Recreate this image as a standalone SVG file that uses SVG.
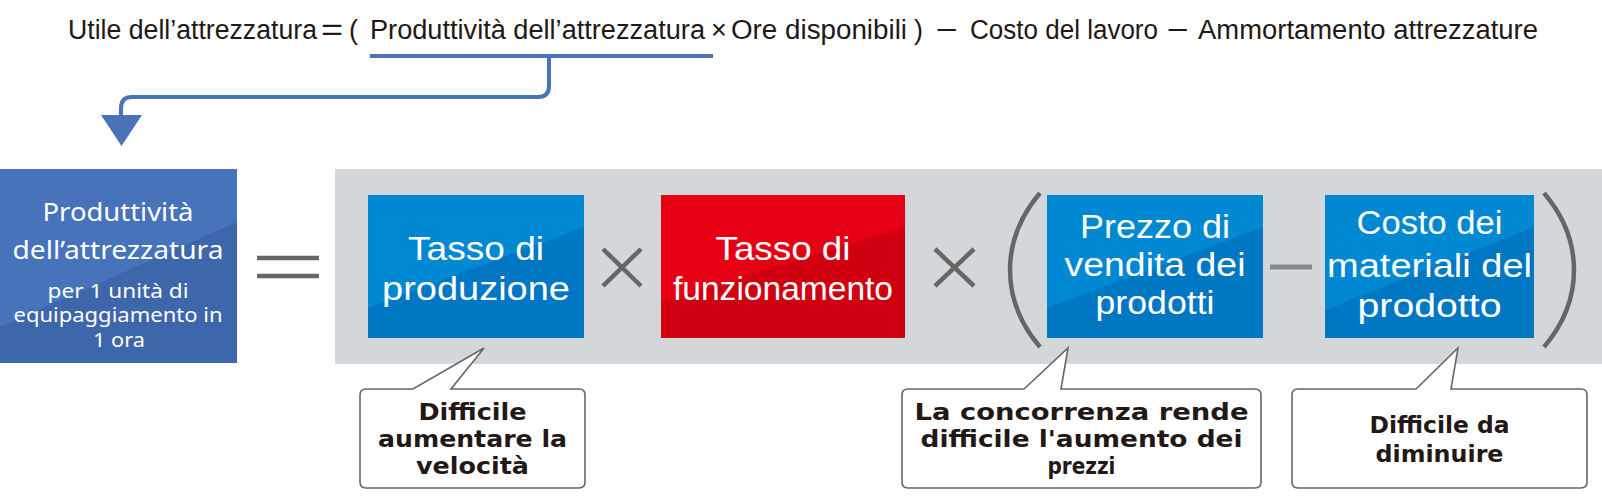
<svg xmlns="http://www.w3.org/2000/svg" width="1602" height="504" viewBox="0 0 1602 504">
<defs>
<style>
.title{font-family:"Liberation Sans",Arial,sans-serif;font-size:27px;fill:#231815}
.lbl{font-family:"Liberation Sans",Arial,sans-serif;font-size:33px;fill:#fff;text-anchor:middle}
.lb1{font-family:"Noto Sans","Liberation Sans",sans-serif;font-size:26px;fill:#fff;text-anchor:middle}
.lb2{font-family:"Noto Sans","Liberation Sans",sans-serif;font-size:20px;fill:#fff;text-anchor:middle}
.bub{fill:#fff;stroke:#666;stroke-width:1.6}
.btx{font-family:"DejaVu Sans","Liberation Sans",sans-serif;font-size:23px;font-weight:bold;fill:#231815;text-anchor:middle}
.op{stroke:#666;stroke-width:4.5;fill:none}
.conn{stroke:#4a72b9;stroke-width:4;fill:none}
</style>
</defs>
<rect width="1602" height="504" fill="#fff"/>

<g id="formula">
<text class="title" x="68" y="39" textLength="249" lengthAdjust="spacingAndGlyphs">Utile dell’attrezzatura</text>
<text class="title" x="321" y="40" style="font-size:32px" textLength="22" lengthAdjust="spacingAndGlyphs">=</text>
<text class="title" x="349" y="39">(</text>
<text class="title" x="370" y="39" textLength="335" lengthAdjust="spacingAndGlyphs">Produttività dell’attrezzatura</text>
<text class="title" x="711" y="39">×</text>
<text class="title" x="731" y="39" textLength="176" lengthAdjust="spacingAndGlyphs">Ore disponibili</text>
<text class="title" x="914" y="39">)</text>
<text class="title" x="936" y="39" textLength="22" lengthAdjust="spacingAndGlyphs">−</text>
<text class="title" x="970" y="39" textLength="188" lengthAdjust="spacingAndGlyphs">Costo del lavoro</text>
<text class="title" x="1167" y="39" textLength="22" lengthAdjust="spacingAndGlyphs">−</text>
<text class="title" x="1198" y="39" textLength="340" lengthAdjust="spacingAndGlyphs">Ammortamento attrezzature</text>
</g>

<g id="connectors">
<line class="conn" x1="370" y1="56" x2="713" y2="56"/>
<path class="conn" d="M549 56 V86 Q549 97 538 97 H132 Q121 97 121 108 V118"/>
<polygon points="101,115 142,115 121.5,146" fill="#4a72b9"/>
</g>

<g id="panel">
<rect x="335" y="169" width="1267" height="195" fill="#d3d7da"/>
</g>

<g id="node-produttivita">
<rect x="0" y="169" width="237" height="194" fill="#4673b9"/>
<polygon points="0,327 237,222 237,363 0,363" fill="#3e66ab"/>
<text class="lb1" x="118" y="221" textLength="151" lengthAdjust="spacingAndGlyphs">Produttività</text>
<text class="lb1" x="118" y="259" textLength="211" lengthAdjust="spacingAndGlyphs">dell’attrezzatura</text>
<text class="lb2" x="118" y="298" textLength="141" lengthAdjust="spacingAndGlyphs">per 1 unità di</text>
<text class="lb2" x="118" y="322" textLength="209" lengthAdjust="spacingAndGlyphs">equipaggiamento in</text>
<text class="lb2" x="119" y="347" textLength="52" lengthAdjust="spacingAndGlyphs">1 ora</text>
</g>

<g id="op-equals">
<line class="op" x1="257" y1="258" x2="319" y2="258"/>
<line class="op" x1="257" y1="276" x2="319" y2="276"/>
</g>

<g id="node-tasso-produzione">
<rect x="368" y="195" width="216" height="143" fill="#0089d2"/>
<polygon points="368,308 584,227 584,338 368,338" fill="#0077c2"/>
<text class="lbl" x="476" y="260" textLength="136" lengthAdjust="spacingAndGlyphs">Tasso di</text>
<text class="lbl" x="476" y="300" textLength="188" lengthAdjust="spacingAndGlyphs">produzione</text>
</g>

<g id="op-times1">
<line class="op" x1="603" y1="249" x2="641" y2="286"/>
<line class="op" x1="641" y1="249" x2="603" y2="286"/>
</g>

<g id="node-tasso-funzionamento">
<rect x="661" y="195" width="244" height="143" fill="#e50014"/>
<polygon points="661,302 905,227 905,338 661,338" fill="#d00011"/>
<text class="lbl" x="783" y="260" textLength="135" lengthAdjust="spacingAndGlyphs">Tasso di</text>
<text class="lbl" x="783" y="300" textLength="220" lengthAdjust="spacingAndGlyphs">funzionamento</text>
</g>

<g id="op-times2">
<line class="op" x1="935" y1="249" x2="974" y2="286"/>
<line class="op" x1="974" y1="249" x2="935" y2="286"/>
</g>

<g id="op-parens">
<path class="op" d="M1040 193 C1000 240 1000 300 1040 347"/>
<path class="op" d="M1544 193 C1584 240 1584 300 1544 347"/>
</g>

<g id="node-prezzo">
<rect x="1047" y="195" width="216" height="143" fill="#0089d2"/>
<polygon points="1047,308 1263,227 1263,338 1047,338" fill="#0077c2"/>
<text class="lbl" x="1155" y="238" textLength="150" lengthAdjust="spacingAndGlyphs">Prezzo di</text>
<text class="lbl" x="1155" y="276" textLength="181" lengthAdjust="spacingAndGlyphs">vendita dei</text>
<text class="lbl" x="1155" y="314" textLength="119" lengthAdjust="spacingAndGlyphs">prodotti</text>
</g>

<g id="op-minus">
<line x1="1270" y1="267" x2="1312" y2="267" stroke="#888" stroke-width="5"/>
</g>

<g id="node-costo">
<rect x="1325" y="195" width="209" height="143" fill="#0089d2"/>
<polygon points="1325,310 1534,227 1534,338 1325,338" fill="#0077c2"/>
<text class="lbl" x="1429.5" y="234" textLength="146" lengthAdjust="spacingAndGlyphs">Costo dei</text>
<text class="lbl" x="1429.5" y="277" textLength="205" lengthAdjust="spacingAndGlyphs">materiali del</text>
<text class="lbl" x="1429.5" y="317" textLength="144" lengthAdjust="spacingAndGlyphs">prodotto</text>
</g>

<g id="bubble-velocita">
<path class="bub" d="M366 389 H413 L484 348 L451 389 H579 Q585 389 585 395 V482 Q585 488 579 488 H366 Q360 488 360 482 V395 Q360 389 366 389 Z"/>
<text class="btx" x="472.5" y="420" textLength="108" lengthAdjust="spacingAndGlyphs">Difficile</text>
<text class="btx" x="472.5" y="447" textLength="189" lengthAdjust="spacingAndGlyphs">aumentare la</text>
<text class="btx" x="472.5" y="474" textLength="113" lengthAdjust="spacingAndGlyphs">velocità</text>
</g>

<g id="bubble-prezzi">
<path class="bub" d="M908 389 H1024 L1068 348 L1061 389 H1255 Q1261 389 1261 395 V482 Q1261 488 1255 488 H908 Q902 488 902 482 V395 Q902 389 908 389 Z"/>
<text class="btx" x="1081.5" y="420" textLength="334" lengthAdjust="spacingAndGlyphs">La concorrenza rende</text>
<text class="btx" x="1081.5" y="447" textLength="322" lengthAdjust="spacingAndGlyphs">difficile l'aumento dei</text>
<text class="btx" x="1081.5" y="474" textLength="68" lengthAdjust="spacingAndGlyphs">prezzi</text>
</g>

<g id="bubble-diminuire">
<path class="bub" d="M1298 389 H1416 L1458 348 L1451 389 H1581 Q1587 389 1587 395 V482 Q1587 488 1581 488 H1298 Q1292 488 1292 482 V395 Q1292 389 1298 389 Z"/>
<text class="btx" x="1439.5" y="433" textLength="140" lengthAdjust="spacingAndGlyphs">Difficile da</text>
<text class="btx" x="1439.5" y="462" textLength="128" lengthAdjust="spacingAndGlyphs">diminuire</text>
</g>
</svg>
